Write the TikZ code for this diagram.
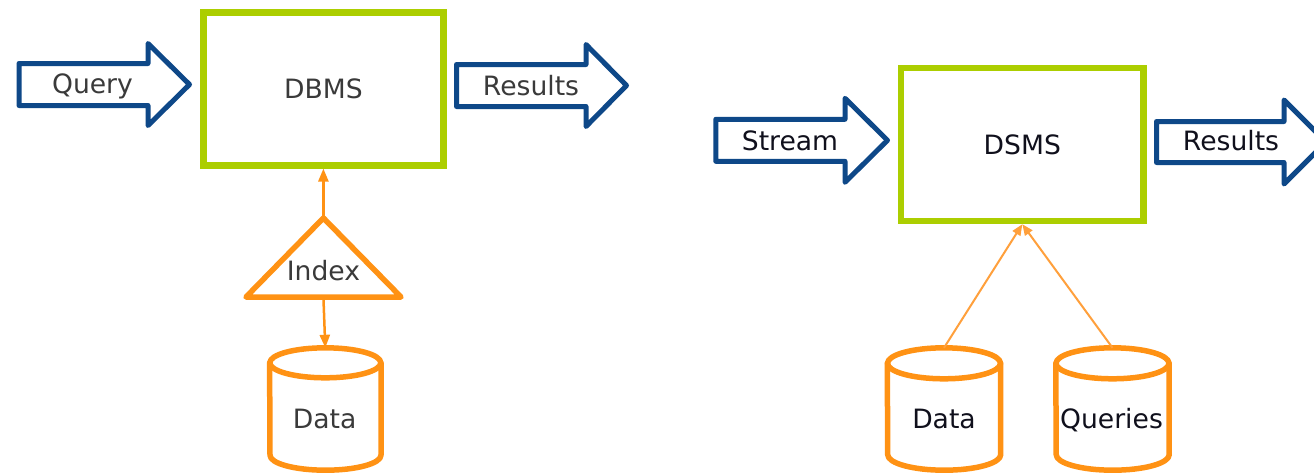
\documentclass[tikz,border=0pt]{standalone}
\usepackage{fontspec}
\setmainfont{DejaVu Sans}
\usetikzlibrary{arrows.meta}

\definecolor{boxgreen}{RGB}{172,206,0}
\definecolor{flowblue}{RGB}{14,72,136}
\definecolor{storeorange}{RGB}{255,146,20}
\definecolor{linkorange}{RGB}{255,160,60}
\definecolor{lefttext}{RGB}{58,58,58}
\definecolor{righttext}{RGB}{16,16,28}

\tikzset{
  lbl/.style={font=\fontsize{26.6}{32}\selectfont, text height=19.4pt, text depth=0pt, inner sep=0pt},
  lblL/.style={lbl, text=lefttext},
  lblR/.style={lbl, text=righttext},
  mgmt/.style={draw=boxgreen, line width=6.5pt, minimum width=240pt, minimum height=153pt, inner sep=0pt},
  flow/.style={draw=flowblue, line width=5pt, line join=round},
  store/.style={draw=storeorange, line width=5.5pt, line join=round, line cap=round},
  drumbox/.style={minimum width=111pt, minimum height=122pt, inner sep=0pt},
  link/.style={draw=storeorange, line width=2.5pt, -{Triangle[length=13pt,width=10pt]}},
  thinlink/.style={draw=linkorange, line width=2pt, -{Triangle[length=11pt,width=9pt]}},
}

% block arrow: #1 tail x, #2 head base x, #3 tip x, #4 centre y, #5 half shaft, #6 half head
\newcommand{\blockarrow}[6]{%
  \draw[flow] ({#1},{#4-#5}) -- ({#2},{#4-#5}) -- ({#2},{#4-#6}) -- ({#3},{#4})
    -- ({#2},{#4+#6}) -- ({#2},{#4+#5}) -- ({#1},{#4+#5}) -- cycle;}

% database drum around a node: #1 node, #2 end radius (y), #3 half width
\newcommand{\drumshape}[3]{%
  \draw[store] ([yshift=-#2pt]#1.north east) -- ([yshift=#2pt]#1.south east)
    arc[start angle=0, end angle=-180, x radius=#3pt, y radius=#2pt]
    -- ([yshift=-#2pt]#1.north west);
  \draw[store] ([yshift=-#2pt]#1.north) ellipse[x radius=#3pt, y radius=#2pt];}

\begin{document}
\begin{tikzpicture}[x=1pt, y=-1pt]
  \fill[white] (0,0) rectangle (1314,472);
  \path[use as bounding box] (0,0) rectangle (1314,472);
  \clip (0,0) rectangle (1314,472);

  % ---- classic database system ----
  \node[mgmt, lblL] (dbms) at (323.4,88.8) {DBMS};
  \blockarrow{19}{148}{189.5}{84.5}{21}{41}
  \node[lblL] (query) at (92.5,84) {Query};
  \blockarrow{456.5}{586}{626.5}{85.5}{21}{41}
  \node[lblL] (resL) at (531,85.3) {Results};

  \coordinate (idxtop) at (323.4,218);
  \coordinate (idxbase) at (323.4,297);
  \draw[store] (idxtop) -- (401,297) -- (246,297) -- cycle;
  \node[lblL] (index) at (323.5,270.3) {Index};

  \node[drumbox] (dataL) at (325.3,409) {};
  \drumshape{dataL}{15}{55.5}
  \node[lblL] (dataLtext) at (324.7,418.3) {Data};

  \draw[link] (idxtop) -- (dbms.south);
  \draw[link] (idxbase) -- (dataL.north);

  % ---- data stream system ----
  \node[mgmt, lblR, minimum width=242.7pt] (dsms) at (1022.3,144.5) {DSMS};
  \blockarrow{715.8}{845}{887.5}{140.3}{21}{42}
  \node[lblR] (stream) at (790,140.5) {Stream};
  \blockarrow{1156.5}{1284}{1326}{142}{20.5}{42}
  \node[lblR] (resR) at (1231,140.5) {Results};

  \node[drumbox, minimum width=113pt] (dataR) at (944,409) {};
  \drumshape{dataR}{15.5}{56.5}
  \node[lblR] (dataRtext) at (944,419) {Data};
  \node[drumbox, minimum width=113pt] (qry) at (1112.5,409) {};
  \drumshape{qry}{15.5}{56.5}
  \node[lblR] (qrytext) at (1111.5,419) {Queries};

  \draw[thinlink] (dataR.north) -- (dsms.south);
  \draw[thinlink] (qry.north) -- (dsms.south);
\end{tikzpicture}
\end{document}
